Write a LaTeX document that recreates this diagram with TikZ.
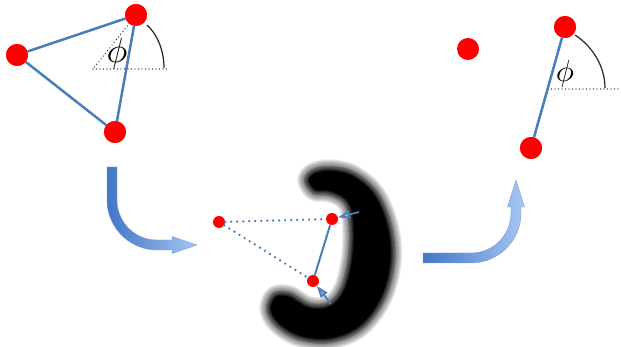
\documentclass[tikz,border=0pt]{standalone}
\usetikzlibrary{arrows.meta}
\definecolor{lineblue}{RGB}{74,126,187}
\definecolor{arrdark}{RGB}{66,118,200}
\definecolor{arrlight}{RGB}{165,198,242}
\tikzset{
 ball/.style={circle, fill=red, inner sep=0pt, minimum size=22pt},
 smallball/.style={circle, fill=red, inner sep=0pt, minimum size=12pt},
 bond/.style={draw=lineblue, line width=2.5pt},
 thinbond/.style={draw=lineblue, line width=2pt},
 bluedots/.style={draw=lineblue, line width=2.6pt, dash pattern=on 0pt off 6pt, line cap=round},
 blackdots/.style={draw=black, line width=1.2pt, dash pattern=on 0pt off 3.5pt, line cap=round},
 anglearc/.style={draw=black!85, line width=1.2pt},
 bigarrow/.style={left color=arrdark, right color=arrlight, draw=arrdark!70!white, line width=0.4pt},
 force/.style={draw=lineblue, line width=1.8pt, -{Triangle[width=8pt,length=12pt,fill=arrlight!60!lineblue]}},
 philabel/.style={inner sep=0pt}
}
\newcommand\blobshape[1]{\path[#1] plot[smooth cycle, tension=0.6] coordinates {
 (304,181) (311,170) (330,166) (355,172) (378,192) (392,225) (395,262) (385,300)
 (362,330) (330,343) (298,340) (275,326) (266,309) (273,293)
 (290,292) (310,303) (328,302) (340,288) (347,262) (349,232) (345,206) (330,196) (313,194)};}
\begin{document}
\begin{tikzpicture}[x=1pt,y=-1pt]
\useasboundingbox (0,0) rectangle (621,347);

% ---- left configuration ----
\node[ball] (a) at (136,15) {};
\node[ball] (b) at (17,55) {};
\node[ball] (c) at (115,132) {};
\coordinate (lref) at (93,69);
\coordinate (lend) at (170,69);
\coordinate (larcs) at (147,25);
\coordinate (larce) at (164,68);
\draw[blackdots] (a.center) -- (lref);
\draw[blackdots] (lref) -- (lend);
\draw[anglearc] (larcs) .. controls (157,34) and (164,50) .. (larce);
\draw[bond] (a) -- (b);
\draw[bond] (b) -- (c);
\draw[bond] (c) -- (a);
\node[ball] at (a) {};
\node[ball] at (b) {};
\node[ball] at (c) {};
\node[philabel] (phil) at (117,54) {\resizebox*{!}{31pt}{$\phi$}};

% ---- left curved arrow ----
\path[bigarrow] (107,167) -- (107,200) .. controls (107,227.6) and (129.4,250) .. (157,250)
 -- (172,250) -- (172,253.5) -- (197,245) -- (172,236.5) -- (172,240) -- (157,240)
 .. controls (134.9,240) and (117,222.1) .. (117,200) -- (117,167) -- cycle;

% ---- blurred blob: outer halo, core, inner softening ----
\foreach \w in {1,2,...,14}{
  \blobshape{draw=black, line width=\w pt, opacity=0.045, line join=round}
}
\blobshape{fill=black}
\begin{scope}
  \blobshape{clip}
  \foreach \w in {1,2,...,10}{
    \blobshape{draw=white, line width=\w pt, opacity=0.055, line join=round}
  }
\end{scope}

% ---- middle configuration ----
\node[smallball] (m1) at (219,222) {};
\node[smallball] (m2) at (332,219) {};
\node[smallball] (m3) at (313,281) {};
\coordinate (f1) at (359,212);
\coordinate (f2) at (331,304);
\draw[bluedots] (m1) -- (m2);
\draw[bluedots] (m1) -- (m3);
\draw[thinbond] (m2) -- (m3);
\draw[force] (f1) -- (m2);
\draw[force] (f2) -- (m3);

% ---- right curved arrow ----
\path[bigarrow] (423,263) -- (471,263) .. controls (498.6,263) and (521,240.6) .. (521,213)
 -- (521,207) -- (524.5,207) -- (516,180) -- (507.5,207) -- (511,207) -- (511,213)
 .. controls (511,235.1) and (493.1,253) .. (471,253) -- (423,253) -- cycle;

% ---- right configuration ----
\node[ball] (r0) at (468,49) {};
\node[ball] (r1) at (565,27) {};
\node[ball] (r2) at (531,148) {};
\coordinate (rref) at (548,89);
\coordinate (rend) at (621,89);
\draw[blackdots] (rref) -- (rend);
\draw[anglearc] (575,35) .. controls (592,46) and (605,66) .. (605,88);
\draw[bond] (r1) -- (r2);
\node[ball] at (r1) {};
\node[ball] at (r2) {};
\node[philabel] (phir) at (565,74) {\resizebox*{!}{27pt}{$\phi$}};
\end{tikzpicture}
\end{document}
